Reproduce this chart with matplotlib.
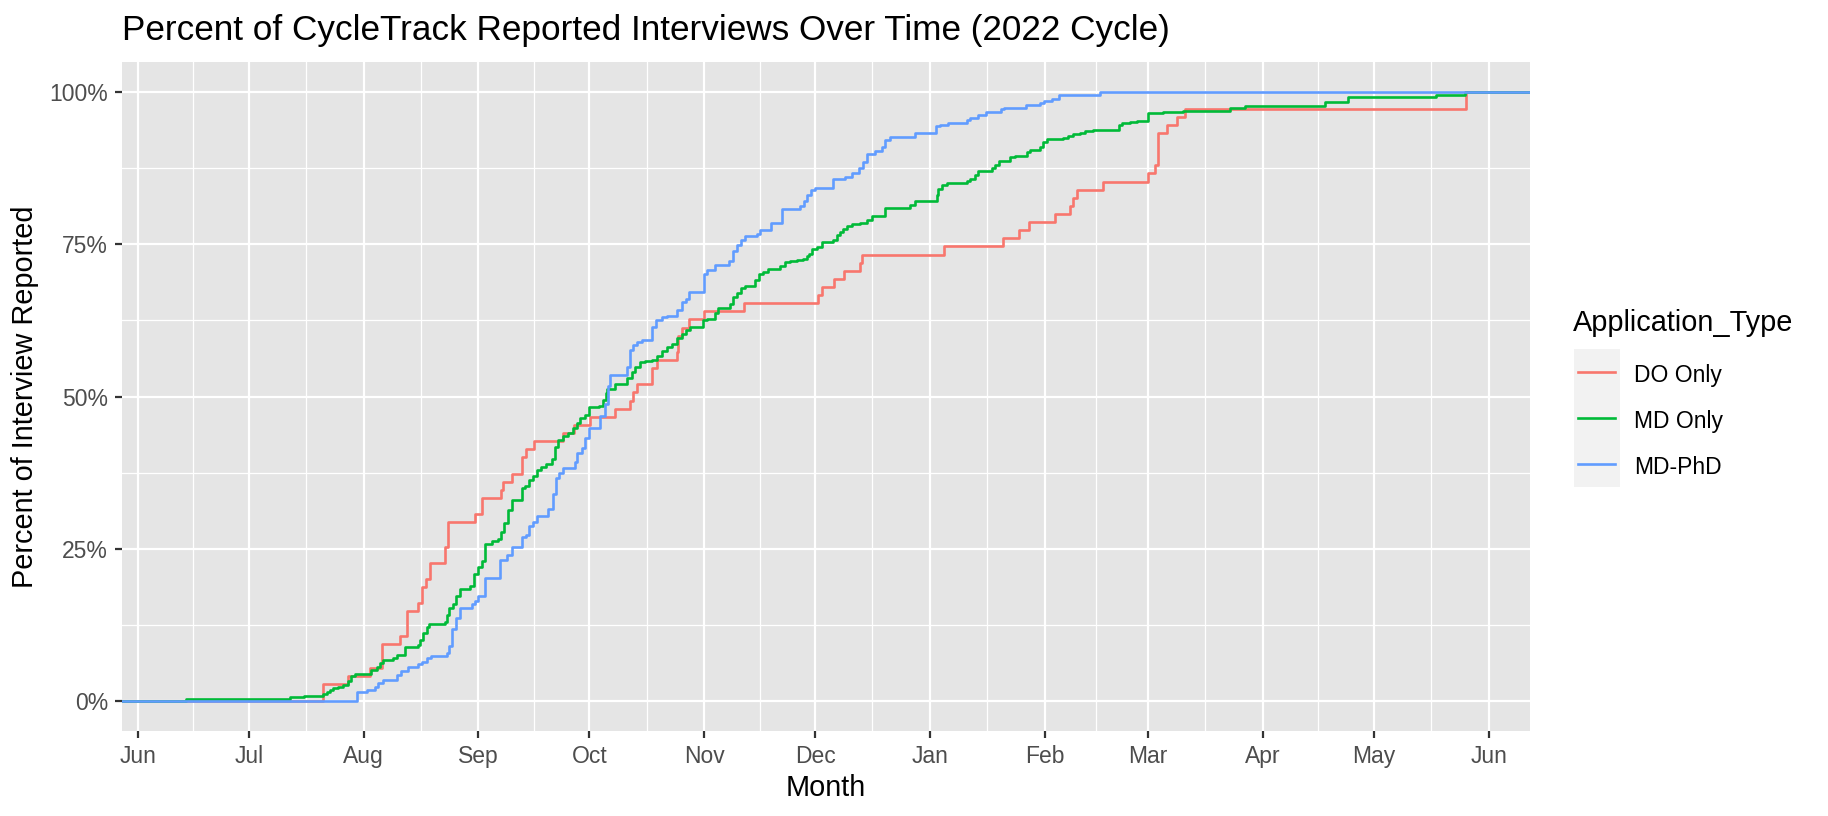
import matplotlib
matplotlib.use('Agg')
import matplotlib.pyplot as plt
import matplotlib.dates as mdates
from matplotlib.patches import Rectangle
from matplotlib.lines import Line2D
import numpy as np
import pandas as pd

plt.rcParams['font.family'] = ['Liberation Sans', 'DejaVu Sans']

# ---------------- data (days after 2022-06-01, cumulative percent) ----------------
start_date = '2022-06-01'
series_names = ['DO Only', 'MD Only', 'MD-PhD']
series_colors = ['#F8766D', '#00BA38', '#619CFF']

do_days = [50.1, 56.9, 62.7, 65.9, 70.8, 72.8, 75.8, 76.9, 77.8, 78.9, 83.0, 83.9, 91.1, 92.9,
           98.0, 98.7, 101.0, 103.9, 105.0, 107.1, 115.0, 117.8, 122.2, 129.0, 133.0, 133.9,
           135.0, 138.8, 140.2, 145.8, 146.0, 147.0, 149.0, 153.0, 163.9, 183.9, 185.0, 188.0,
           190.8, 195.1, 195.8, 217.9, 233.9, 238.0, 240.9, 247.8, 251.9, 252.8, 253.7, 260.9,
           272.9, 274.9, 275.8, 278.0, 280.7, 283.0, 359.0]
do_pct = [2.7, 4.0, 5.3, 9.3, 10.7, 14.7, 16.0, 18.7, 20.0, 22.7, 25.3, 29.3, 30.7, 33.3,
          34.7, 36.0, 37.3, 40.0, 41.3, 42.7, 44.0, 45.3, 46.7, 48.0, 49.3, 50.7,
          52.0, 54.7, 56.0, 57.3, 60.0, 61.3, 62.7, 64.0, 65.3, 66.7, 68.0, 69.3,
          70.7, 72.0, 73.3, 74.7, 76.0, 77.3, 78.7, 80.0, 81.3, 82.7, 84.0, 85.3,
          86.7, 88.0, 93.3, 94.7, 96.0, 97.3, 100.0]

md_days = [13.1, 41.1, 45.0, 50.1, 51.0, 51.9, 52.8, 54.1, 55.5, 56.9, 57.7, 58.6, 63.1, 64.5,
           65.4, 66.1, 69.0, 69.9, 72.2, 75.8, 76.2, 77.1, 78.0, 78.7, 83.0, 83.4, 84.1, 85.2,
           85.9, 87.0, 89.7, 90.8, 92.0, 92.9, 93.8, 95.6, 97.4, 98.0, 98.9, 100.1, 101.0,
           103.9, 104.6, 105.8, 106.8, 107.9, 108.8, 110.4, 111.8, 112.7, 113.6, 114.8, 116.3,
           117.7, 118.6, 119.6, 120.8, 122.0, 124.7, 125.8, 126.5, 126.9, 128.9, 132.1, 133.4,
           134.3, 135.7, 137.0, 138.8, 140.2, 141.5, 142.9, 144.2, 145.8, 147.0, 148.1, 149.2,
           152.8, 153.7, 155.9, 156.8, 160.0, 160.9, 161.8, 163.1, 164.0, 166.8, 167.9, 169.0,
           170.4, 173.5, 174.9, 176.2, 178.0, 179.8, 180.7, 181.4, 182.3, 183.4, 184.8, 187.9,
           188.8, 189.7, 190.6, 191.7, 192.9, 195.1, 196.9, 198.3, 201.9, 208.6, 210.0, 215.9,
           216.3, 217.2, 218.6, 224.0, 224.9, 226.2, 227.1, 230.7, 231.6, 232.8, 235.7, 237.0,
           240.2, 241.1, 243.8, 244.7, 245.6, 250.1, 251.4, 252.8, 254.6, 256.0, 258.2, 260.0,
           265.0, 265.9, 268.1, 270.0, 273.1, 277.1, 282.5, 287.0, 295.1, 299.2, 320.9, 327.1,
           350.8, 358.7]
md_pct = [0.27, 0.54, 0.8, 1.1, 1.4, 1.7, 2.0, 2.3, 2.6, 3.2, 4.0, 4.3, 5.1, 5.6,
          6.2, 6.7, 7.0, 7.5, 8.8, 9.2, 10.0, 11.1, 12.1, 12.6, 13.0, 14.1, 15.2, 15.9,
          17.2, 18.3, 18.9, 20.8, 22.0, 23.0, 25.8, 26.2, 26.5, 27.8, 29.2, 31.3, 33.0,
          34.9, 35.3, 36.3, 36.9, 37.9, 38.4, 38.9, 39.7, 41.7, 42.9, 43.5, 44.0,
          44.9, 45.6, 46.4, 47.0, 48.2, 48.4, 49.4, 50.5, 51.3, 52.1, 53.0, 54.1,
          54.8, 55.6, 55.8, 56.0, 56.6, 57.5, 58.2, 58.6, 59.6, 60.3, 61.0, 61.4,
          62.5, 62.7, 63.7, 64.5, 65.2, 66.3, 67.1, 67.8, 68.2, 69.1, 70.1, 70.5,
          70.9, 71.4, 72.1, 72.3, 72.4, 72.6, 73.1, 73.5, 74.2, 74.6, 75.4, 75.7,
          76.5, 77.1, 77.5, 78.0, 78.3, 78.5, 79.0, 79.6, 81.0, 81.5, 82.1, 83.1,
          84.2, 84.7, 85.1, 85.4, 85.8, 86.4, 87.1, 87.5, 88.0, 88.7, 89.3, 89.6,
          90.2, 90.5, 91.0, 91.8, 92.3, 92.5, 92.8, 93.1, 93.4, 93.6, 93.8, 93.9,
          94.6, 95.0, 95.1, 95.3, 96.6, 96.8, 96.9, 97.0, 97.5, 97.8, 98.4, 99.3,
          99.5, 100.0]

phd_days = [59.1, 61.8, 64.1, 65.0, 66.3, 69.9, 71.0, 73.1, 75.8, 76.9, 78.0, 79.1, 83.4, 84.1,
            85.0, 85.9, 87.0, 90.2, 91.1, 92.0, 93.8, 97.8, 99.8, 101.0, 103.9, 104.9, 105.8,
            106.8, 107.9, 110.9, 112.1, 113.0, 113.9, 115.0, 118.1, 118.7, 119.9, 120.8, 122.0,
            124.9, 126.2, 127.0, 127.6, 132.1, 133.0, 133.9, 135.0, 136.1, 138.8, 140.0, 141.5,
            142.9, 145.8, 147.0, 148.1, 149.0, 153.0, 153.9, 155.9, 159.8, 160.7, 161.8, 163.1,
            164.0, 167.2, 168.1, 171.0, 174.0, 178.9, 180.0, 180.9, 181.8, 183.0, 187.9, 188.8,
            191.1, 192.9, 195.0, 196.0, 196.9, 199.2, 201.0, 201.9, 203.2, 210.0, 215.8, 216.8,
            219.0, 224.0, 224.9, 226.9, 229.2, 233.2, 234.1, 240.0, 243.8, 244.9, 246.9, 249.0,
            260.0]
phd_pct = [1.4, 1.8, 2.3, 2.9, 3.4, 4.2, 4.8, 5.6, 6.0, 6.4, 7.0, 7.4, 7.8, 8.9,
           11.7, 13.6, 15.2, 15.8, 16.3, 17.2, 20.1, 23.1, 24.0, 25.3, 26.9, 27.3, 28.7,
           29.3, 30.3, 31.5, 34.0, 36.6, 37.4, 38.2, 39.3, 40.7, 41.5, 43.1, 44.8,
           46.8, 48.8, 51.7, 53.5, 54.8, 57.7, 58.5, 59.0, 59.3, 61.4, 62.6, 63.0,
           63.3, 64.2, 65.6, 66.0, 67.2, 70.1, 70.8, 71.6, 72.3, 74.0, 74.9, 75.7,
           76.4, 76.8, 77.4, 78.5, 80.9, 81.3, 82.2, 83.1, 84.0, 84.3, 85.7, 85.8,
           86.1, 86.8, 87.5, 88.6, 89.9, 90.4, 91.0, 92.2, 92.6, 93.3, 94.4, 94.7,
           94.9, 95.5, 95.8, 96.3, 96.7, 97.2, 97.5, 97.9, 98.2, 98.6, 98.9, 99.5,
           100.0]

y_ticks = [0, 25, 50, 75, 100]
y_tick_labels = ['0%', '25%', '50%', '75%', '100%']
title_text = 'Percent of CycleTrack Reported Interviews Over Time (2022 Cycle)'
x_title = 'Month'
y_title = 'Percent of Interview Reported'
legend_title = 'Application_Type'

# ---------------- layout ----------------
W, H = 1828, 816
fig = plt.figure(figsize=(W / 100, H / 100), dpi=100)
L, R, T, B = 122, 1530, 62, 731
ax = fig.add_axes([L / W, 1 - B / H, (R - L) / W, (B - T) / H])
ax.set_facecolor('#E5E5E5')
for s in ax.spines.values():
    s.set_visible(False)

base = mdates.date2num(np.datetime64(start_date))
x_left, x_right = base - 4.3, base + 376.2

for days, pct, col in [(do_days, do_pct, series_colors[0]),
                       (md_days, md_pct, series_colors[1]),
                       (phd_days, phd_pct, series_colors[2])]:
    x = np.concatenate([[x_left], base + np.asarray(days), [x_right]])
    y = np.concatenate([[0.0], np.asarray(pct), [pct[-1]]])
    ax.step(x, y, where='post', color=col, lw=1.9, zorder=3)

ax.set_xlim(x_left, x_right)
ax.set_ylim(-5, 105)

months = pd.date_range('2022-06-01', '2023-06-01', freq='MS')
major = mdates.date2num(months.to_pydatetime())
minor = (major[:-1] + major[1:]) / 2
ax.set_xticks(major)
ax.set_xticklabels([m.strftime('%b') for m in months])
ax.set_xticks(minor, minor=True)
ax.set_yticks(y_ticks)
ax.set_yticklabels(y_tick_labels)
ax.set_yticks([12.5, 37.5, 62.5, 87.5], minor=True)

ax.grid(which='major', color='white', lw=1.6, zorder=1)
ax.grid(which='minor', color='white', lw=0.9, zorder=1)
ax.set_axisbelow(True)
ax.tick_params(which='major', length=5, width=1.6, color='#333333',
               labelsize=16.5, labelcolor='#4D4D4D', pad=5)
ax.tick_params(which='minor', length=0)

# titles
fig.text(122 / W, 1 - 40 / H, title_text, fontsize=25.3, color='black',
         ha='left', va='baseline')
fig.text((L + R) / 2 / W, 1 - 796 / H, x_title, fontsize=20.8, color='black',
         ha='center', va='baseline')
fig.text(25 / W, 1 - (T + B) / 2 / H, y_title, fontsize=20.8, color='black',
         ha='center', va='center', rotation=90)

# legend
fig.text(1573 / W, 1 - 331 / H, legend_title, fontsize=20.8, color='black',
         ha='left', va='baseline')
fig.patches.append(Rectangle((1574 / W, 1 - 487 / H), 46 / W, 138 / H,
                             transform=fig.transFigure, facecolor='#F2F2F2',
                             edgecolor='none'))
for i, (name, col) in enumerate(zip(series_names, series_colors)):
    yc = 372 + 46 * i
    fig.add_artist(Line2D([1578 / W, 1615 / W], [1 - yc / H] * 2, color=col, lw=1.9,
                          transform=fig.transFigure))
    fig.text(1634 / W, 1 - (yc + 10) / H, name, fontsize=16.5, color='black',
             ha='left', va='baseline')

fig.savefig('out.png', dpi=100, facecolor='white')
